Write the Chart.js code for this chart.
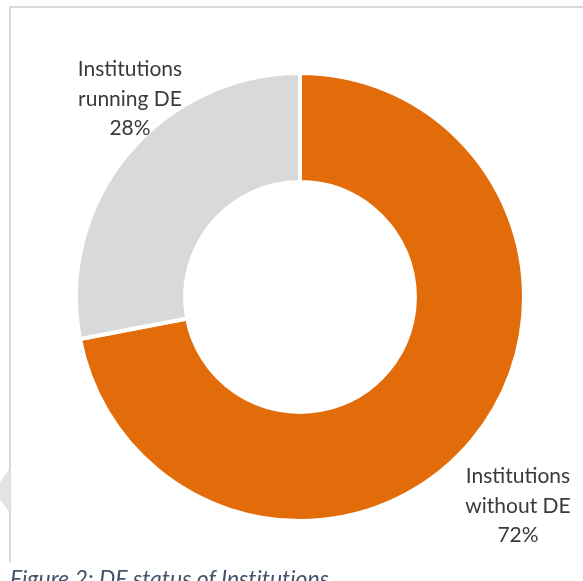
<!DOCTYPE html>
<html lang="en">
<head>
    <meta charset="UTF-8">
    <title>DE status of Institutions</title>
    <script src="https://cdn.jsdelivr.net/npm/chart.js"></script>
    <style>
        body {
            margin: 0;
            padding: 0;
            background: #ffffff;
            width: 583px;
            height: 581px;
            overflow: hidden;
            position: relative;
            font-family: Lato, 'Open Sans', sans-serif;
        }

        .frame {
            position: absolute;
            left: 9px;
            top: 6px;
            width: 600px;
            height: 556px;
            border-top: 2px solid #d9d9d9;
            border-left: 2px solid #d9d9d9;
            box-sizing: border-box;
        }

        .mark {
            position: absolute;
            left: 0;
            top: 467px;
            width: 10px;
            height: 46px;
            background: #e3e3e3;
            clip-path: polygon(0 35%, 100% 0, 100% 100%, 0 70%);
        }

        .chart-wrapper {
            position: absolute;
            left: 0;
            top: 0;
            width: 583px;
            height: 581px;
        }

        .caption {
            position: absolute;
            left: 10px;
            top: 564px;
            font-size: 23px;
            font-style: italic;
            font-variant-ligatures: none;
            color: #44546a;
            white-space: nowrap;
        }
    </style>
</head>
<body>
    <div class="frame"></div>
    <div class="mark"></div>
    <div class="chart-wrapper">
        <canvas id="chart" width="583" height="581"></canvas>
    </div>
    <div class="caption">Figure 2: DE status of Institutions</div>
    <script>
        // data
        const categories = ['Institutions without DE', 'Institutions running DE'];
        const labelLines = [['Institutions', 'without DE'], ['Institutions', 'running DE']];
        const shares = [72, 28];
        const sliceColors = ['#e36c0a', '#d9d9d9'];

        // where the data labels sit (centre of the text block)
        const labelAnchors = [{ x: 518, y: 506 }, { x: 130, y: 99 }];

        const outsideLabels = {
            id: 'outsideLabels',
            afterDraw(chart) {
                const ctx = chart.ctx;
                ctx.save();
                ctx.font = '21px Lato, "Open Sans", sans-serif';
                ctx.fillStyle = '#3a3a3a';
                ctx.textAlign = 'center';
                ctx.textBaseline = 'middle';
                const lineH = 29.5;
                shares.forEach((v, i) => {
                    const lines = labelLines[i].concat([v + '%']);
                    const a = labelAnchors[i];
                    const top = a.y - (lines.length - 1) * lineH / 2;
                    lines.forEach((t, j) => ctx.fillText(t, a.x, top + j * lineH));
                });
                ctx.restore();
            }
        };

        new Chart(document.getElementById('chart'), {
            type: 'doughnut',
            data: {
                labels: categories,
                datasets: [{
                    data: shares,
                    backgroundColor: sliceColors,
                    borderColor: '#ffffff',
                    borderWidth: 4,
                    hoverOffset: 0
                }]
            },
            options: {
                responsive: false,
                animation: false,
                cutout: '51.3%',
                layout: {
                    padding: { left: 74, right: 57, top: 71, bottom: 58 }
                },
                plugins: {
                    legend: { display: false },
                    tooltip: { enabled: false }
                }
            },
            plugins: [outsideLabels]
        });
    </script>
</body>
</html>
